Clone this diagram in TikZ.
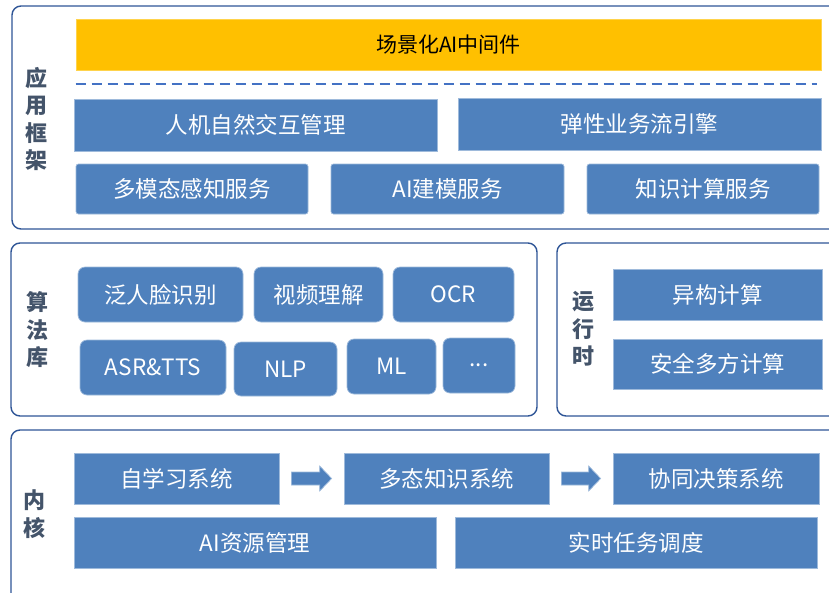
\documentclass[tikz,border=0pt]{standalone}
\usepackage{fontspec}
\setmainfont{Noto Sans CJK SC}
\usetikzlibrary{calc}
\definecolor{boxblue}{HTML}{4F81BD}
\definecolor{panelline}{HTML}{2F5597}
\definecolor{lblcol}{HTML}{44546A}
\definecolor{ybar}{HTML}{FFC000}
\definecolor{dashcol}{HTML}{4472C4}
\newcommand\mkbox[7][]{\node[box,#1,minimum width={(#5)-(#3)},minimum height={(#6)-(#4)}] (#2) at ({((#3)+(#5))/2},{((#4)+(#6))/2}) {#7};}
\begin{document}
\begin{tikzpicture}[x=1pt,y=-1pt,
  box/.style={draw=boxblue!55!white,line width=0.7pt,fill=boxblue,text=white,inner sep=0pt,
    font=\fontsize{22.5}{26}\selectfont},
  rbox/.style={rounded corners=7pt},
  sbox/.style={rounded corners=2.5pt},
  ybox/.style={fill=ybar,draw=ybar!70!white,text=black,font=\fontsize{21}{25}\selectfont},
  panel/.style={draw=panelline,line width=1.4pt,rounded corners=9pt,fill=white},
  lbl/.style={text=lblcol,align=center,inner sep=0pt,font=\fontsize{22}{27.5}\selectfont\bfseries},
  barrow/.style={fill=boxblue,draw=boxblue!55!white,line width=0.7pt},
  dline/.style={draw=dashcol,line width=2pt,dash pattern=on 10pt off 6pt}]
\useasboundingbox (0,0) rectangle (829,592);
\clip (0,0) rectangle (829,592);
\fill[white] (0,0) rectangle (829,592);

% panels
\node[panel,minimum width=833,minimum height=223,inner sep=0pt] (p1) at ({12+833/2},{6+223/2}) {};
\node[panel,minimum width=526,minimum height=173,inner sep=0pt] (p2) at ({11+526/2},{243+173/2}) {};
\node[panel,minimum width=288,minimum height=173,inner sep=0pt] (p3) at ({557+288/2},{243+173/2}) {};
\node[panel,minimum width=834,minimum height=180,inner sep=0pt] (p4) at ({11+834/2},{430+180/2}) {};

% labels
\node[lbl] (l1) at (36,119) {应\\用\\框\\架};
\node[lbl] (l2) at (37,330) {算\\法\\库};
\node[lbl] (l3) at (583,329) {运\\行\\时};
\node[lbl] (l4) at (34.5,514) {内\\核};

% application framework
\mkbox[ybox]{mid}{76}{19}{821}{70}{场景化AI中间件}
\draw[dline] ($(mid.south west)+(0,14)$) coordinate (d1) -- ($(mid.south east)+(-4,14)$) coordinate (d2);
\mkbox{hci}{74}{99}{437}{151}{人机自然交互管理}
\mkbox{flow}{458}{98}{821}{150}{弹性业务流引擎}
\mkbox[sbox]{mm}{76}{164}{308}{214}{多模态感知服务}
\mkbox[sbox]{aim}{331}{164}{564}{214}{AI建模服务}
\mkbox[sbox]{kc}{587}{164}{819}{214}{知识计算服务}

% algorithms
\mkbox[rbox]{face}{78}{267}{243}{322}{泛人脸识别}
\mkbox[rbox]{video}{254}{267}{383}{322}{视频理解}
\mkbox[rbox]{ocr}{393}{267}{514}{322}{OCR}
\mkbox[rbox]{asr}{80}{340}{226}{395}{ASR\&TTS}
\mkbox[rbox]{nlp}{234}{342}{337}{396}{NLP}
\mkbox[rbox]{ml}{347}{339}{436}{394}{ML}
\mkbox[rbox]{more}{443}{338}{515}{393}{...}

% runtime
\mkbox{het}{613}{269}{822}{320}{异构计算}
\mkbox{mpc}{613}{339}{822}{389}{安全多方计算}

% kernel
\mkbox{self}{74}{453}{279}{504}{自学习系统}
\mkbox{poly}{344}{453}{549}{504}{多态知识系统}
\mkbox{coop}{613}{453}{819}{504}{协同决策系统}
\mkbox{res}{74}{517}{436}{568}{AI资源管理}
\mkbox{rt}{455}{517}{817}{568}{实时任务调度}

% block arrows
\foreach \a/\b in {self/poly,poly/coop}{
  \draw[barrow] ($(\a.east)+(12,-6.5)$) -- ($(\b.west)+(-24,-6.5)$) -- ($(\b.west)+(-24,-12.5)$)
    -- ($(\b.west)+(-12,0)$) -- ($(\b.west)+(-24,12.5)$) -- ($(\b.west)+(-24,6.5)$)
    -- ($(\a.east)+(12,6.5)$) -- cycle;
}
\end{tikzpicture}
\end{document}
